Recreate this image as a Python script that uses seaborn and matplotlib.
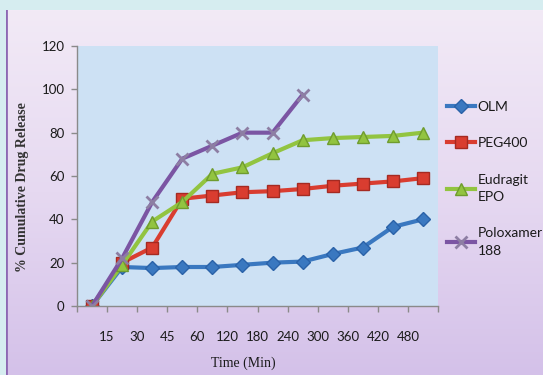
import numpy as np
import pandas as pd
import matplotlib
matplotlib.use("Agg")
import matplotlib.pyplot as plt
from matplotlib.colors import LinearSegmentedColormap
import seaborn as sns

# ---- data ----
times = [0, 15, 30, 45, 60, 120, 180, 240, 300, 360, 420, 480]
olm = [0, 18, 17.5, 18, 18, 19, 20, 20.5, 24, 27, 36.5, 40]
peg400 = [0, 20, 27, 49.5, 51, 52.5, 53, 54, 55.5, 56.5, 57.5, 59]
eudragit = [0, 19, 39, 48, 61, 64, 70.5, 76.5, 77.5, 78, 78.5, 80]
poloxamer = [0, 22, 48, 68, 74, 80, 80, 97.5, np.nan, np.nan, np.nan, np.nan]
series_names = ["OLM", "PEG400", "Eudragit\nEPO", "Poloxamer\n188"]
yticks = [0, 20, 40, 60, 80, 100, 120]

W, H = 543, 375
fig = plt.figure(figsize=(W / 100, H / 100), dpi=100, facecolor="#d6edf0")

# chart-area gradient background
bg = fig.add_axes([6 / W, 0, (W - 6) / W, (H - 10) / H], zorder=0)
cmap = LinearSegmentedColormap.from_list("bg", ["#f2eaf6", "#e6d9f1", "#d4c1e9"])
grad = np.linspace(0, 1, 256).reshape(-1, 1)
bg.imshow(grad, aspect="auto", cmap=cmap, extent=[0, 1, 0, 1], origin="upper")
bg.axvline(0, color="#8d68b3", linewidth=2)
bg.set_xlim(0, 1)
bg.set_ylim(0, 1)
bg.axis("off")

ax = fig.add_axes([77 / W, (H - 306) / H, (438 - 77) / W, (306 - 46) / H], zorder=1)
ax.set_facecolor("#cde1f4")

pos = np.arange(len(times))
df = pd.DataFrame({"pos": pos, "OLM": olm, "PEG400": peg400,
                   "Eudragit": eudragit, "Poloxamer": poloxamer})

styles = [
    ("OLM", series_names[0], "#3a78c0", "D", 7, "#2a62a8", 1.0),
    ("PEG400", series_names[1], "#d93d30", "s", 8, "#a52a22", 1.0),
    ("Eudragit", series_names[2], "#92c440", "^", 9, "#6f9c2e", 1.0),
    ("Poloxamer", series_names[3], "#7b55a3", "x", 8.5, "#8d7ea3", 2.0),
]
for col, lab, color, mk, ms, mec, mew in styles:
    mfc = color if mk != "x" else "#8d7ea3"
    sns.lineplot(data=df, x="pos", y=col, ax=ax, color=color, linewidth=3.0,
                 marker=mk, markersize=ms, markerfacecolor=mfc,
                 markeredgecolor=mec, markeredgewidth=mew, label=lab)

ax.set_xlim(-0.5, len(times) - 0.5)
ax.set_ylim(0, 120)
xt = np.arange(-0.5, len(times))
ax.set_xticks(xt)
ax.set_xticklabels([""] + [str(t) for t in times[1:]] + [""])
ax.set_yticks(yticks)
ax.set_yticklabels([str(v) for v in yticks])
for sp in ["top", "right"]:
    ax.spines[sp].set_visible(False)
for sp in ["left", "bottom"]:
    ax.spines[sp].set_color("#8a8a8a")
    ax.spines[sp].set_linewidth(1.0)
ax.tick_params(axis="x", direction="out", length=4, width=1, color="#8a8a8a",
               pad=14, labelsize=9.5, labelcolor="#1a1a1a")
ax.tick_params(axis="y", direction="out", length=4, width=1, color="#8a8a8a",
               pad=5, labelsize=9.5, labelcolor="#1a1a1a")
for t in ax.get_xticklabels() + ax.get_yticklabels():
    t.set_fontfamily("Lato")

ax.set_xlabel("Time (Min)", fontfamily="Liberation Serif", fontsize=10,
              color="#1a1a1a", va="center")
ax.xaxis.set_label_coords((243 - 77) / (438 - 77), -(363 - 306) / (306 - 46))
ax.set_ylabel("% Cumulative Drug Release", fontfamily="Liberation Serif",
              fontsize=10, fontweight="bold", color="#333333", va="center")
ax.yaxis.set_label_coords(-(77 - 22) / (438 - 77), (306 - 187) / (306 - 46))

handles, labels = ax.get_legend_handles_labels()
leg = ax.legend(handles, labels, loc="upper left",
                bbox_to_anchor=(447 / W, 1 - 101 / H),
                bbox_transform=fig.transFigure, frameon=False, borderpad=0,
                borderaxespad=0, handlelength=2.0, handletextpad=0.2,
                labelspacing=1.75, prop={"family": "Lato", "size": 10})
for t in leg.get_texts():
    t.set_color("#1a1a1a")
    t.set_linespacing(1.55)

fig.savefig("out.png", dpi=100, facecolor=fig.get_facecolor())
